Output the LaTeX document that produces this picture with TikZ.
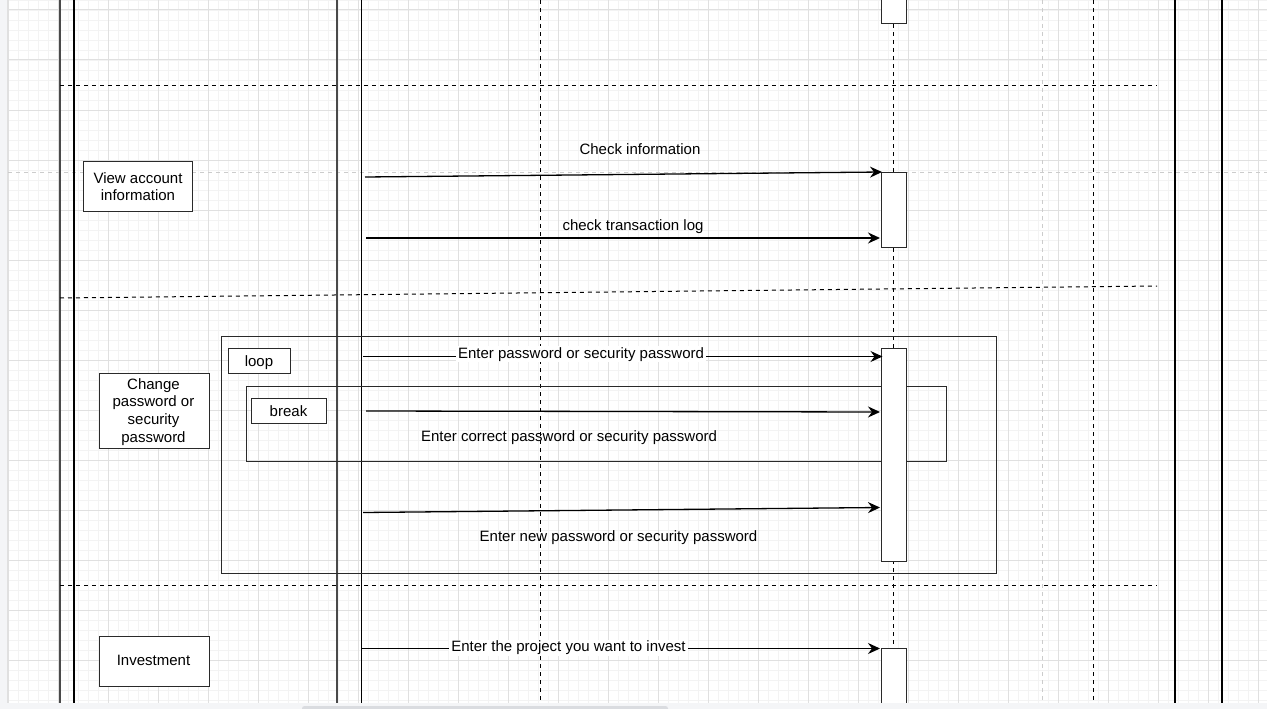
\documentclass[tikz,border=0pt]{standalone}
\usepackage{fontspec}
\setmainfont{Liberation Sans}
\usetikzlibrary{arrows.meta}
\definecolor{gmin}{HTML}{F3F3F3}
\definecolor{gmaj}{HTML}{E0E0E0}
\definecolor{edge}{HTML}{2A2A2A}
\definecolor{lgray}{HTML}{4A4A4A}
\definecolor{guide}{HTML}{CCCCCC}
\definecolor{strip}{HTML}{F4F5F7}
\definecolor{thumb}{HTML}{DADCE0}
\begin{document}
\begin{tikzpicture}[x=1pt,y=-1pt,
  every node/.style={font=\fontsize{15}{17.7}\selectfont, inner sep=0pt},
  box/.style={draw=edge, line width=1.3pt, fill=white, align=center, anchor=north west},
  frame/.style={draw=edge, line width=1.3pt, anchor=north west},
  act/.style={draw=edge, line width=1.3pt, fill=white, anchor=north west, minimum width=25pt},
  life/.style={line width=1.3pt},
  dashline/.style={line width=1pt, dash pattern=on 4pt off 4pt},
  guideline/.style={guide, line width=1pt, dash pattern=on 4pt off 4pt},
  msg/.style={line width=1.3pt, -{Stealth[length=12pt,width=11pt,inset=4pt]}},
  lbl/.style={fill=white, inner xsep=2pt, inner ysep=1pt, anchor=base}]
\useasboundingbox (0,0) rectangle (1267,709);
\fill[white] (0,0) rectangle (1267,709);
% grid
\foreach \x in {8,18,...,1267} \draw[gmin, line width=0.8pt] (\x,0) -- (\x,703);
\foreach \y in {0,10,...,700} \draw[gmin, line width=0.8pt] (8,\y) -- (1267,\y);
\foreach \x in {8,58,...,1267} \draw[gmaj, line width=1pt] (\x,0) -- (\x,703);
\foreach \y in {10,60,...,700} \draw[gmaj, line width=1pt] (8,\y) -- (1267,\y);
% guides
\draw[guideline] (8,172) -- (1267,172);
\draw[guideline] (1042,0) -- (1042,703);
% solid lifelines / borders
\draw[life, lgray] (60,0) -- (60,703);
\draw[life] (74,0) -- (74,703);
\draw[life, lgray] (337,0) -- (337,703);
\draw[life] (361.5,0) -- (361.5,703);
\draw[life] (1175,0) -- (1175,703);
\draw[life] (1222,0) -- (1222,703);
% dashed verticals
\draw[dashline] (540,0) -- (540,703);
\draw[dashline] (893,0) -- (893,703);
\draw[dashline] (1093,0) -- (1093,703);
% dashed separators
\draw[dashline] (60,86) -- (1157,86);
\draw[dashline] (60,298) -- (1157,286);
\draw[dashline] (60,585) -- (1157,585);
% frames
\node[frame, minimum width=775pt, minimum height=237pt] (loopf) at (221,336) {};
\node[frame, minimum width=700pt, minimum height=75pt] (breakf) at (246,386) {};
\node[box, minimum width=62pt, minimum height=25pt] (loopl) at (228,348) {};
\node[anchor=base] (looplt) at (259,366) {loop};
\node[box, minimum width=75pt, minimum height=25pt] (breakl) at (251,398) {};
\node[anchor=base] (breaklt) at (288.5,416) {break};
% left boxes
\node[box, minimum width=109pt, minimum height=50pt] (view) at (83,160.5) {};
\node[anchor=base] (viewt1) at (138,183.3) {View account};
\node[anchor=base] (viewt2) at (138,200.3) {information};
\node[box, minimum width=110pt, minimum height=75pt] (chg) at (98.5,373) {};
\node[anchor=base] (chgt1) at (153.5,389.3) {Change};
\node[anchor=base] (chgt2) at (153.5,406.9) {password or};
\node[anchor=base] (chgt3) at (153.5,424.6) {security};
\node[anchor=base] (chgt4) at (153.5,442.3) {password};
\node[box, minimum width=110pt, minimum height=50pt] (inv) at (98.5,635.5) {};
\node[anchor=base] (invt) at (153.5,665.5) {Investment};
% activation boxes
\node[act, minimum height=30pt] (act1) at (881,-7) {};
\node[act, minimum height=75pt] (act2) at (881,172) {};
\node[act, minimum height=212.5pt] (act3) at (881,348) {};
\node[act, minimum height=70pt] (act4) at (881,648) {};
% message endpoints
\coordinate (s1) at (365,177);   \coordinate (e1) at (882,172);
\coordinate (s2) at (366,238);   \coordinate (e2) at (880,238);
\coordinate (s3) at (363,356.5); \coordinate (e3) at (882.5,356.5);
\coordinate (s4) at (366,411);   \coordinate (e4) at (880,412);
\coordinate (s5) at (363,512.5); \coordinate (e5) at (880,507.5);
\coordinate (s6) at (361.5,648.5); \coordinate (e6) at (880,648.5);
% messages
\draw[msg] (s1) -- (e1);
\draw[msg] (s2) -- (e2);
\draw[msg] (s3) -- (e3);
\draw[msg] (s4) -- (e4);
\draw[msg] (s5) -- (e5);
\draw[msg] (s6) -- (e6);
% labels
\node[anchor=base] (l1) at (640,154) {Check information};
\node[anchor=base] (l2) at (633,230) {check transaction log};
\node[lbl] (l3) at (581,358) {Enter password or security password};
\node[anchor=base] (l4) at (569,441) {Enter correct password or security password};
\node[anchor=base] (l5) at (618.5,541) {Enter new password or security password};
\node[lbl] (l6) at (568.5,651.5) {Enter the project you want to invest};
% window strips (drawn on top)
\fill[strip] (0,0) rectangle (7,709);
\draw[gmaj, line width=0.8pt] (7.5,0) -- (7.5,703);
\fill[strip] (0,703) rectangle (1267,709);
\fill[thumb, rounded corners=2.5pt] (302,706) rectangle (668,712);
\end{tikzpicture}
\end{document}
